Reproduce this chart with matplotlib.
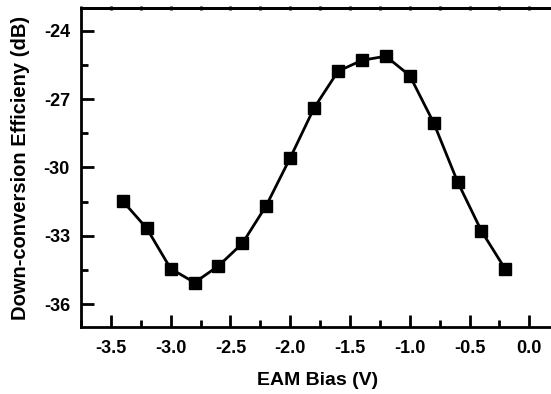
import numpy as np
import matplotlib.pyplot as plt
from matplotlib.ticker import MultipleLocator

plt.rcParams['font.family'] = ['Liberation Sans', 'DejaVu Sans']
plt.rcParams['font.weight'] = 'bold'
plt.rcParams['axes.unicode_minus'] = False

bias = [-3.4, -3.2, -3.0, -2.8, -2.6, -2.4, -2.2, -2.0, -1.8,
        -1.6, -1.4, -1.2, -1.0, -0.8, -0.6, -0.4, -0.2]
eff = [-31.48, -32.67, -34.44, -35.05, -34.32, -33.33, -31.67, -29.58, -27.39,
       -25.78, -25.30, -25.12, -25.97, -28.04, -30.63, -32.79, -34.47]

fig = plt.figure(figsize=(5.51, 3.94), dpi=100)
ax = fig.add_axes([0.147, 0.170, 0.857, 0.810])

ax.plot(bias, eff, '-s', color='black', lw=2, ms=8)

ax.set_xlim(-3.75, 0.2)
ax.set_ylim(-37, -23)
ax.xaxis.set_major_locator(MultipleLocator(0.5))
ax.xaxis.set_minor_locator(MultipleLocator(0.25))
ax.yaxis.set_major_locator(MultipleLocator(3))
ax.yaxis.set_minor_locator(MultipleLocator(1.5))
ax.set_yticks([-36, -33, -30, -27, -24])

for s in ['left', 'bottom', 'top']:
    ax.spines[s].set_linewidth(2)
ax.spines['right'].set_visible(False)

ax.tick_params(which='major', direction='in', length=9, width=2, labelsize=13)
ax.tick_params(which='minor', direction='in', length=5, width=2)
ax.tick_params(axis='x', which='major', pad=9)
ax.tick_params(axis='y', which='major', pad=8)

# tiny ticks along the top edge
top = ax.secondary_xaxis('top')
top.xaxis.set_major_locator(MultipleLocator(0.25))
top.tick_params(direction='inout', length=3, width=2, labeltop=False)
top.spines['top'].set_linewidth(2)

ax.set_xlabel('EAM Bias (V)', fontsize=14, fontweight='bold', labelpad=11)
ax.set_ylabel('Down-conversion Efficieny (dB)', fontsize=14.5, fontweight='bold', labelpad=10)

fig.savefig('out.png', dpi=100)
